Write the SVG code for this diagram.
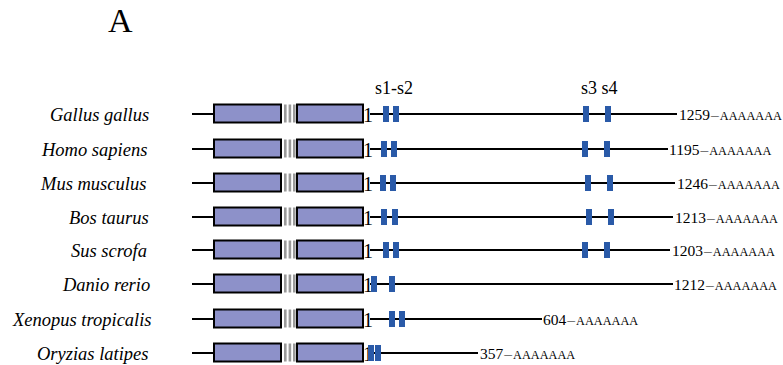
<svg xmlns="http://www.w3.org/2000/svg" width="783" height="365" viewBox="0 0 783 365">
<defs>
<style>
text{font-family:'Liberation Serif','Times New Roman','DejaVu Serif',serif;fill:#000}
.sp{font-size:18.5px;font-style:italic}
.hd{font-size:18px}
.one{font-size:20px}
.lbl{font-size:15.5px}
.aa{font-size:12.3px}
.ln{stroke:#000;stroke-width:2;fill:none}
.box{fill:#8d91c9;stroke:#000;stroke-width:2}
.gap{fill:#9a9a9a}
.bar{fill:#2a5aa8}
</style>
<g id="dom">
<rect class="box" x="214" y="0" width="67" height="18"/>
<rect class="gap" x="284" y="0" width="2.6" height="18"/>
<rect class="gap" x="288.6" y="0" width="2.6" height="18"/>
<rect class="gap" x="293" y="0" width="2.6" height="18"/>
<rect class="box" x="297" y="0" width="66" height="18"/>
</g>
</defs>
<g font-family="Liberation Serif, Times New Roman, serif">
<text x="108" y="32" style="font-size:34px">A</text>
<text class="hd" x="375" y="94">s1-s2</text>
<text class="hd" x="581" y="94">s3 s4</text>

<g id="gallus">
<text class="sp" x="50" y="120.5">Gallus gallus</text>
<line class="ln" x1="192" y1="114" x2="214" y2="114"/>
<use href="#dom" y="104.5"/>
<text class="one" x="363" y="122">1</text>
<line class="ln" x1="370" y1="114" x2="677" y2="114"/>
<rect class="bar" x="383" y="106" width="6" height="16"/><rect class="bar" x="393" y="106" width="6" height="16"/>
<rect class="bar" x="583" y="106" width="6" height="16"/><rect class="bar" x="605" y="106" width="6" height="16"/>
<text class="lbl" x="679" y="119.5">1259<tspan dx="1">–</tspan><tspan class="aa" dx="1">AAAAAAA</tspan></text>
</g>

<g id="homo">
<text class="sp" x="42" y="155.5">Homo sapiens</text>
<line class="ln" x1="192" y1="149" x2="214" y2="149"/>
<use href="#dom" y="139.5"/>
<text class="one" x="363" y="157">1</text>
<line class="ln" x1="370" y1="149" x2="668" y2="149"/>
<rect class="bar" x="381" y="141" width="6" height="16"/><rect class="bar" x="391" y="141" width="6" height="16"/>
<rect class="bar" x="582" y="141" width="6" height="16"/><rect class="bar" x="604" y="141" width="6" height="16"/>
<text class="lbl" x="669" y="154.5">1195<tspan dx="1">–</tspan><tspan class="aa" dx="1">AAAAAAA</tspan></text>
</g>

<g id="mus">
<text class="sp" x="41" y="189.5">Mus musculus</text>
<line class="ln" x1="192" y1="183" x2="214" y2="183"/>
<use href="#dom" y="173.5"/>
<text class="one" x="363" y="191">1</text>
<line class="ln" x1="370" y1="183" x2="675" y2="183"/>
<rect class="bar" x="380" y="175" width="6" height="16"/><rect class="bar" x="390" y="175" width="6" height="16"/>
<rect class="bar" x="585" y="175" width="6" height="16"/><rect class="bar" x="607" y="175" width="6" height="16"/>
<text class="lbl" x="677" y="188.5">1246<tspan dx="1">–</tspan><tspan class="aa" dx="1">AAAAAAA</tspan></text>
</g>

<g id="bos">
<text class="sp" x="69" y="223.5">Bos taurus</text>
<line class="ln" x1="192" y1="217" x2="214" y2="217"/>
<use href="#dom" y="207.5"/>
<text class="one" x="363" y="225">1</text>
<line class="ln" x1="370" y1="217" x2="673" y2="217"/>
<rect class="bar" x="381" y="209" width="6" height="16"/><rect class="bar" x="392" y="209" width="6" height="16"/>
<rect class="bar" x="586" y="209" width="6" height="16"/><rect class="bar" x="608" y="209" width="6" height="16"/>
<text class="lbl" x="675" y="222.5">1213<tspan dx="1">–</tspan><tspan class="aa" dx="1">AAAAAAA</tspan></text>
</g>

<g id="sus">
<text class="sp" x="71" y="256.5">Sus scrofa</text>
<line class="ln" x1="192" y1="250" x2="214" y2="250"/>
<use href="#dom" y="240.5"/>
<text class="one" x="363" y="258">1</text>
<line class="ln" x1="370" y1="250" x2="670" y2="250"/>
<rect class="bar" x="383" y="242" width="6" height="16"/><rect class="bar" x="393" y="242" width="6" height="16"/>
<rect class="bar" x="582" y="242" width="6" height="16"/><rect class="bar" x="604" y="242" width="6" height="16"/>
<text class="lbl" x="672" y="255.5">1203<tspan dx="1">–</tspan><tspan class="aa" dx="1">AAAAAAA</tspan></text>
</g>

<g id="danio">
<text class="sp" x="63" y="290.5">Danio rerio</text>
<line class="ln" x1="192" y1="284" x2="214" y2="284"/>
<use href="#dom" y="274.5"/>
<text class="one" x="363" y="292">1</text>
<line class="ln" x1="370" y1="284" x2="673" y2="284"/>
<rect class="bar" x="371" y="276" width="6" height="16"/><rect class="bar" x="389" y="276" width="6" height="16"/>
<text class="lbl" x="674" y="289.5">1212<tspan dx="1">–</tspan><tspan class="aa" dx="1">AAAAAAA</tspan></text>
</g>

<g id="xenopus">
<text class="sp" x="13" y="325.5">Xenopus tropicalis</text>
<line class="ln" x1="192" y1="319" x2="214" y2="319"/>
<use href="#dom" y="309.5"/>
<text class="one" x="363" y="327">1</text>
<line class="ln" x1="370" y1="319" x2="542" y2="319"/>
<rect class="bar" x="389" y="311" width="6" height="16"/><rect class="bar" x="399" y="311" width="6" height="16"/>
<text class="lbl" x="543" y="324.5">604<tspan dx="1">–</tspan><tspan class="aa" dx="1">AAAAAAA</tspan></text>
</g>

<g id="oryzias">
<text class="sp" x="37" y="359.5">Oryzias latipes</text>
<line class="ln" x1="192" y1="353" x2="214" y2="353"/>
<use href="#dom" y="343.5"/>
<text class="one" x="363" y="361">1</text>
<line class="ln" x1="370" y1="353" x2="478" y2="353"/>
<rect class="bar" x="368" y="345" width="6" height="16"/><rect class="bar" x="375" y="345" width="6" height="16"/>
<text class="lbl" x="480" y="358.5">357<tspan dx="1">–</tspan><tspan class="aa" dx="1">AAAAAAA</tspan></text>
</g>
</g>
<g id="connectors"/>
</svg>
